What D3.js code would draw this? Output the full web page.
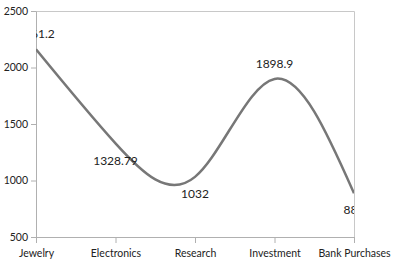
<!DOCTYPE html>
<html>
<head>
<meta charset="utf-8">
<script src="https://cdn.jsdelivr.net/npm/d3@7"></script>
<style>
  body { margin: 0; background: #fff; }
  text { font-family: Lato, "Open Sans", sans-serif; }
</style>
</head>
<body>
<div id="chart"></div>
<script>
const categories = ["Jewelry", "Electronics", "Research", "Investment", "Bank Purchases"];
const values = [2161.2, 1328.79, 1032, 1898.9, 887];
const yTicks = [500, 1000, 1500, 2000, 2500];

const drawChart = () => {

  /*******************************/
  /*    Declare the constants    */
  /*******************************/
  const margin = {top: 11, right: 42, bottom: 35, left: 36};
  const width = 396;
  const height = 272;
  const innerWidth = width - margin.left - margin.right;
  const innerHeight = height - margin.top - margin.bottom;

  const svg = d3.select("#chart")
    .append("svg")
      .attr("width", width)
      .attr("height", height);

  const innerChart = svg
    .append("g")
      .attr("transform", `translate(${margin.left}, ${margin.top})`);

  svg.append("clipPath")
      .attr("id", "plot-clip")
    .append("rect")
      .attr("width", innerWidth)
      .attr("height", innerHeight);

  /****************************/
  /*    Declare the scales    */
  /****************************/
  const xScale = d3.scalePoint()
    .domain(categories)
    .range([0, innerWidth]);

  const yScale = d3.scaleLinear()
    .domain([500, 2500])
    .range([innerHeight, 0]);

  // Plot border (top and right)
  innerChart.append("path")
      .attr("d", `M0,0.5H${innerWidth + 0.5}V${innerHeight}`)
      .attr("fill", "none")
      .attr("stroke", "#c8c8c8")
      .attr("stroke-width", 1);

  /**************************/
  /*      Add the axes      */
  /**************************/
  const bottomAxis = d3.axisBottom(xScale)
    .tickSizeOuter(0)
    .tickSizeInner(6)
    .tickPadding(7);
  const xAxis = innerChart.append("g")
      .attr("transform", `translate(0, ${innerHeight})`)
      .call(bottomAxis);

  const leftAxis = d3.axisLeft(yScale)
    .tickValues(yTicks)
    .tickFormat(d3.format("d"))
    .tickSizeOuter(0)
    .tickSizeInner(5)
    .tickPadding(3);
  const yAxis = innerChart.append("g")
      .call(leftAxis);

  [xAxis, yAxis].forEach(axis => {
    axis.select(".domain").attr("stroke", "#b0b0b0");
    axis.selectAll(".tick line").attr("stroke", "#b0b0b0");
    axis.selectAll(".tick text")
      .attr("fill", "#222")
      .style("font-family", "Lato, 'Open Sans', sans-serif")
      .style("font-size", "10.5px");
  });

  /**************************/
  /*      Add the line      */
  /**************************/
  const points = categories.map((c, i) => ({category: c, value: values[i]}));

  const lineGenerator = d3.line()
    .x(d => xScale(d.category))
    .y(d => yScale(d.value))
    .curve(d3.curveNatural);

  const plot = innerChart.append("g")
      .attr("clip-path", "url(#plot-clip)");

  plot.append("path")
      .attr("d", lineGenerator(points))
      .attr("fill", "none")
      .attr("stroke", "#777")
      .attr("stroke-width", 2.5);

  // Labels go above local peaks, below everything else
  const isPeak = i => values.every((v, j) => Math.abs(j - i) !== 1 || v < values[i]);

  plot.selectAll(".data-label")
    .data(points)
    .join("text")
      .attr("class", "data-label")
      .attr("x", d => xScale(d.category))
      .attr("y", (d, i) => yScale(d.value) + (isPeak(i) ? -15 : 17))
      .attr("dy", "0.35em")
      .attr("text-anchor", "middle")
      .attr("fill", "#222")
      .style("font-size", "12px")
      .text(d => d.value);
};

drawChart();
</script>
</body>
</html>
